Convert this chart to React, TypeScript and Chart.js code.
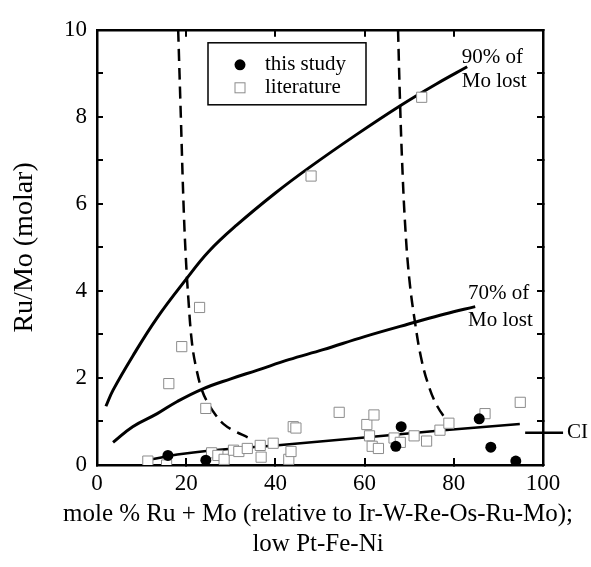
import React, { useEffect, useRef } from 'react';
import { Chart, registerables } from 'chart.js';

Chart.register(...registerables);

// ---- data ----
const thisStudyX = [15.9, 24.4, 68.2, 67.0, 85.7, 88.3, 93.9];
const thisStudyY = [0.22, 0.11, 0.88, 0.43, 1.06, 0.41, 0.09];

const literatureX = [11.4, 15.6, 16.1, 24.4, 25.7, 27.1, 28.5, 30.6, 31.8, 33.7, 36.6, 36.8, 39.5, 43.0, 43.5, 44.0, 44.6, 54.3, 60.5, 62.1, 61.1, 61.7, 63.1, 66.6, 68.0, 71.1, 73.9, 76.9, 78.9, 87.0, 94.9, 23.0, 19.0, 48.0, 72.8];
const literatureY = [0.09, 0.0, 1.87, 1.3, 0.28, 0.22, 0.13, 0.34, 0.31, 0.38, 0.45, 0.18, 0.5, 0.13, 0.31, 0.88, 0.85, 1.21, 0.93, 1.15, 0.67, 0.43, 0.38, 0.62, 0.52, 0.67, 0.55, 0.8, 0.96, 1.18, 1.44, 3.62, 2.72, 6.64, 8.45];

const mo90X = [2, 3.6, 8, 13.4, 20, 25, 31.3, 40, 47.8, 58, 67.9, 76, 83];
const mo90Y = [1.35, 1.72, 2.5, 3.37, 4.27, 4.9, 5.51, 6.25, 6.85, 7.58, 8.25, 8.75, 9.15];

const mo70X = [3.6, 8, 13.5, 18, 23.5, 30, 36, 43, 50.7, 60, 71.3, 78, 84.8];
const mo70Y = [0.52, 0.88, 1.18, 1.46, 1.74, 1.98, 2.18, 2.42, 2.65, 2.95, 3.28, 3.47, 3.64];

const ciX = [12.3, 18, 25, 40, 60, 77, 94.8];
const ciY = [0.13, 0.24, 0.33, 0.45, 0.63, 0.79, 0.94];

const dashLeftX = [18.2, 18.8, 19.4, 19.9, 20.5, 21.3, 22.3, 23.6, 25, 26.6, 28.4, 30.5, 33.9];
const dashLeftY = [10, 8, 6, 4.8, 3.8, 2.8, 2.2, 1.7, 1.4, 1.15, 0.94, 0.8, 0.63];

const dashRightX = [67.5, 67.9, 68.4, 69.1, 70.0, 71.3, 72.8, 74.6, 76.3, 78.2];
const dashRightY = [10, 8.5, 7, 5.5, 4.3, 3.28, 2.4, 1.75, 1.35, 1.05];

const ciMarkX = [96, 104.5];
const ciMarkY = [0.74, 0.74];

const xTickStep = 20;
const yTickStep = 1;

const noteText = ['90% of', 'Mo lost', '70% of', 'Mo lost', 'CI'];
const noteX = [81.8, 81.8, 83.2, 83.2, 105.4];
const noteY = [9.37, 8.81, 3.93, 3.33, 0.74];

const legendLabels = ['this study', 'literature'];

const xTitle = ['mole % Ru + Mo (relative to Ir-W-Re-Os-Ru-Mo);', 'low Pt-Fe-Ni'];
const yTitle = 'Ru/Mo (molar)';

const zip = (xs: number[], ys: number[]) => xs.map((x, i) => ({ x, y: ys[i] }));

const FONT = '"Liberation Serif", "Times New Roman", serif';

const overlayPlugin = {
  id: 'overlay',
  afterDatasetsDraw(chart: any) {
    const { ctx, chartArea } = chart;
    const xs = chart.scales.x;
    const ys = chart.scales.y;
    ctx.save();
    ctx.fillStyle = '#000';
    ctx.font = `21px ${FONT}`;
    ctx.textBaseline = 'middle';
    ctx.textAlign = 'left';
    for (let i = 0; i < noteText.length; i++) {
      ctx.fillText(noteText[i], xs.getPixelForValue(noteX[i]), ys.getPixelForValue(noteY[i]));
    }
    // legend box
    const lx = chartArea.left + 111;
    const ly = chartArea.top + 13;
    const lw = 158;
    const lh = 62;
    ctx.lineWidth = 1.5;
    ctx.strokeStyle = '#000';
    ctx.strokeRect(lx, ly, lw, lh);
    const mx = lx + 32;
    const r1 = ly + 22;
    const r2 = ly + 45;
    ctx.beginPath();
    ctx.arc(mx, r1, 5.5, 0, Math.PI * 2);
    ctx.fill();
    ctx.fillStyle = '#fff';
    ctx.fillRect(mx - 5, r2 - 5, 10, 10);
    ctx.lineWidth = 1;
    ctx.strokeStyle = '#8c8c8c';
    ctx.strokeRect(mx - 5, r2 - 5, 10, 10);
    ctx.fillStyle = '#000';
    ctx.fillText(legendLabels[0], lx + 57, r1);
    ctx.fillText(legendLabels[1], lx + 57, r2);

    // x-axis title (drawn here so it may be wider than the plot area)
    ctx.font = `25px ${FONT}`;
    ctx.textAlign = 'center';
    const cx = (chartArea.left + chartArea.right) / 2 - 2;
    ctx.fillText(xTitle[0], cx, chartArea.bottom + 49);
    ctx.fillText(xTitle[1], cx, chartArea.bottom + 79);
    ctx.restore();
  },
};

export default function App() {
  const ref = useRef<HTMLCanvasElement | null>(null);

  useEffect(() => {
    if (!ref.current) return;
    const lineDs = (label: string, data: any[], dash: number[] = [], width = 3) => ({
      type: 'line' as const,
      label,
      data,
      borderColor: '#000',
      borderWidth: width,
      borderDash: dash,
      pointRadius: 0,
      pointHoverRadius: 0,
      fill: false,
      tension: 0.4,
      showLine: true,
      clip: false as any,
    });

    const tickAxisCommon = {
      type: 'linear' as const,
      grid: {
        display: true,
        drawOnChartArea: false,
        drawTicks: true,
        color: '#000',
        lineWidth: 2,
        tickWidth: 2,
      },
      border: { display: true, color: '#000', width: 2.5 },
    };

    const chart = new Chart(ref.current, {
      type: 'scatter',
      data: {
        datasets: [
          {
            label: legendLabels[0],
            data: zip(thisStudyX, thisStudyY),
            pointStyle: 'circle',
            pointRadius: 5.5,
            backgroundColor: '#000',
            borderColor: '#000',
            borderWidth: 0,
          },
          {
            label: legendLabels[1],
            data: zip(literatureX, literatureY),
            pointStyle: 'rect',
            pointRadius: 7.2,
            backgroundColor: '#fff',
            borderColor: '#8c8c8c',
            borderWidth: 1,
          },
          lineDs('90% of Mo lost', zip(mo90X, mo90Y)),
          lineDs('70% of Mo lost', zip(mo70X, mo70Y)),
          lineDs('CI', zip(ciX, ciY), [], 2.5),
          lineDs('boundary left', zip(dashLeftX, dashLeftY), [12, 7], 2.5),
          lineDs('boundary right', zip(dashRightX, dashRightY), [12, 7], 2.5),
          { ...lineDs('CI marker', zip(ciMarkX, ciMarkY), [], 2.5), tension: 0 },
        ] as any,
      },
      options: {
        responsive: false,
        animation: false,
        devicePixelRatio: 1,
        layout: { padding: 0 },
        font: { family: FONT } as any,
        plugins: {
          legend: { display: false },
          tooltip: { enabled: false },
          title: { display: false },
        },
        scales: {
          x: {
            ...tickAxisCommon,
            position: 'bottom',
            min: 0,
            max: 100,
            grid: { ...tickAxisCommon.grid, tickLength: -7 },
            ticks: {
              stepSize: xTickStep,
              color: '#000',
              padding: 12,
              font: { family: FONT, size: 23 },
              maxRotation: 0,
              autoSkip: false,
            },
            title: { display: false },
            afterFit: (s: any) => {
              s.height = 102;
            },
          },
          x2: {
            ...tickAxisCommon,
            position: 'top',
            min: 0,
            max: 100,
            grid: { ...tickAxisCommon.grid, tickLength: -7 },
            ticks: { stepSize: xTickStep, display: false },
            afterFit: (s: any) => {
              s.height = 20;
            },
          },
          y: {
            ...tickAxisCommon,
            position: 'left',
            min: 0,
            max: 10,
            grid: { ...tickAxisCommon.grid, tickLength: -6 },
            ticks: {
              stepSize: yTickStep,
              color: '#000',
              padding: 16,
              autoSkip: false,
              font: { family: FONT, size: 23 },
              callback: (v: any) => (Number(v) % 2 === 0 ? String(v) : ''),
            },
            title: {
              display: true,
              text: yTitle,
              color: '#000',
              font: { family: FONT, size: 28, lineHeight: 1.2 },
              padding: { top: 8, bottom: 0 },
            },
            afterFit: (s: any) => {
              s.width = 97;
            },
          },
          y2: {
            ...tickAxisCommon,
            position: 'right',
            min: 0,
            max: 10,
            grid: { ...tickAxisCommon.grid, tickLength: -6 },
            ticks: { stepSize: yTickStep, display: false, autoSkip: false },
            afterFit: (s: any) => {
              s.width = 48;
            },
          },
        },
      } as any,
      plugins: [overlayPlugin],
    });
    return () => chart.destroy();
  }, []);

  return (
    <div style={{ position: 'fixed', left: 0, top: 0, width: 591, height: 567, background: '#fff' }}>
      <canvas ref={ref} width={591} height={567} style={{ display: 'block', width: 591, height: 567 }} />
    </div>
  );
}
